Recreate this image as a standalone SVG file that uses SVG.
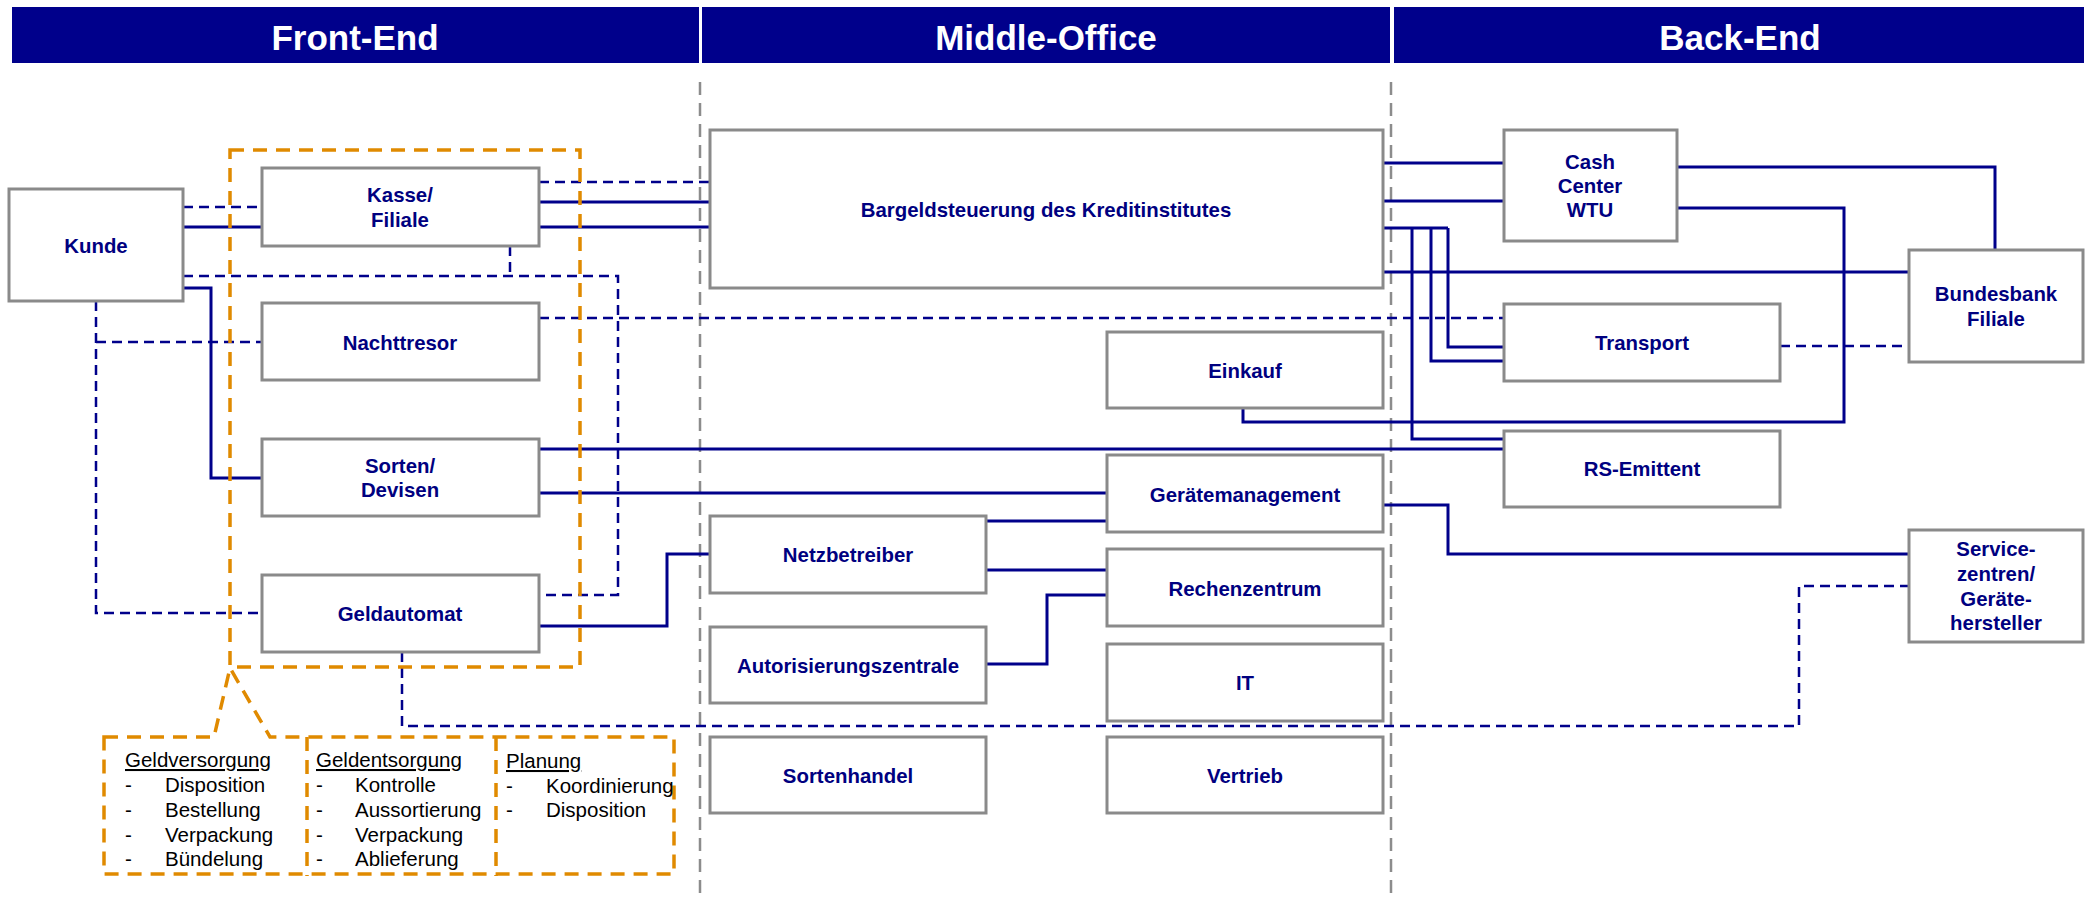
<svg xmlns="http://www.w3.org/2000/svg" width="2089" height="902" viewBox="0 0 2089 902">
<style>
.band{fill:#00008B}
.htxt{fill:#fff;font-family:"Liberation Sans",Arial,sans-serif;font-weight:bold;font-size:35px;text-anchor:middle}
.box{fill:#fff;stroke:#8a8a8a;stroke-width:3}
.ntxt{fill:#000080;font-family:"Liberation Sans",Arial,sans-serif;font-weight:bold;font-size:20.4px;text-anchor:middle}
.sol{fill:none;stroke:#00008B;stroke-width:3}
.dsh{fill:none;stroke:#00008B;stroke-width:2.5;stroke-dasharray:10 6}
.gray{fill:none;stroke:#8c8c8c;stroke-width:2.5;stroke-dasharray:13 8}
.org{fill:none;stroke:#E08A00;stroke-width:3.5;stroke-dasharray:14 9}
.atxt{fill:#000;font-family:"Liberation Sans",Arial,sans-serif;font-size:20.5px}
</style>
<rect width="2089" height="902" fill="#fff"/>
<g id="headers">
<rect class="band" x="12" y="7" width="687" height="56"/>
<rect class="band" x="702" y="7" width="688" height="56"/>
<rect class="band" x="1394" y="7" width="690" height="56"/>
<text class="htxt" x="355" y="50">Front-End</text>
<text class="htxt" x="1046" y="50">Middle-Office</text>
<text class="htxt" x="1740" y="50">Back-End</text>
</g>
<g id="separators">
<line class="gray" x1="700" y1="82" x2="700" y2="898"/>
<line class="gray" x1="1391" y1="82" x2="1391" y2="898"/>
</g>
<g id="connectors">
<line class="dsh" x1="183" y1="207" x2="262" y2="207"/>
<line class="sol" x1="183" y1="227" x2="262" y2="227"/>
<line class="dsh" x1="539" y1="182" x2="710" y2="182"/>
<line class="sol" x1="539" y1="202" x2="710" y2="202"/>
<line class="sol" x1="539" y1="227" x2="710" y2="227"/>
<polyline class="dsh" points="183,276 618,276 618,595 539,595"/>
<line class="dsh" x1="510" y1="246" x2="510" y2="276"/>
<line class="dsh" x1="539" y1="318" x2="1504" y2="318"/>
<polyline class="dsh" points="96,301 96,613 262,613"/>
<line class="dsh" x1="96" y1="342" x2="262" y2="342"/>
<polyline class="sol" points="183,288 211,288 211,478 262,478"/>
<line class="sol" x1="539" y1="449" x2="1504" y2="449"/>
<line class="sol" x1="539" y1="493" x2="1107" y2="493"/>
<polyline class="sol" points="539,626 667,626 667,554 710,554"/>
<polyline class="dsh" points="402,652 402,726 1799,726 1799,586 1909,586"/>
<line class="sol" x1="986" y1="521" x2="1107" y2="521"/>
<line class="sol" x1="986" y1="570" x2="1107" y2="570"/>
<polyline class="sol" points="986,664 1047,664 1047,595 1107,595"/>
<polyline class="sol" points="1677,208 1844,208 1844,422 1243,422 1243,408"/>
<polyline class="sol" points="1677,167 1995,167 1995,250"/>
<line class="sol" x1="1383" y1="163" x2="1504" y2="163"/>
<line class="sol" x1="1383" y1="201" x2="1504" y2="201"/>
<line class="sol" x1="1383" y1="228" x2="1448" y2="228"/>
<polyline class="sol" points="1448,228 1448,347 1504,347"/>
<polyline class="sol" points="1431,228 1431,361 1504,361"/>
<polyline class="sol" points="1412,228 1412,439 1504,439"/>
<line class="sol" x1="1383" y1="272" x2="1909" y2="272"/>
<line class="dsh" x1="1780" y1="346" x2="1909" y2="346"/>
<polyline class="sol" points="1383,505 1448,505 1448,554 1909,554"/>
</g>
<g id="kunde"><rect class="box" x="9" y="189" width="174" height="112"/><text class="ntxt" x="96" y="253">Kunde</text></g>
<g id="kasse"><rect class="box" x="262" y="168" width="277" height="78"/><text class="ntxt" x="400" y="202">Kasse/</text><text class="ntxt" x="400" y="227">Filiale</text></g>
<g id="nachttresor"><rect class="box" x="262" y="303" width="277" height="77"/><text class="ntxt" x="400" y="350">Nachttresor</text></g>
<g id="sorten"><rect class="box" x="262" y="439" width="277" height="77"/><text class="ntxt" x="400" y="473">Sorten/</text><text class="ntxt" x="400" y="497">Devisen</text></g>
<g id="geldautomat"><rect class="box" x="262" y="575" width="277" height="77"/><text class="ntxt" x="400" y="621">Geldautomat</text></g>
<g id="bargeldsteuerung"><rect class="box" x="710" y="130" width="673" height="158"/><text class="ntxt" x="1046" y="217">Bargeldsteuerung des Kreditinstitutes</text></g>
<g id="einkauf"><rect class="box" x="1107" y="332" width="276" height="76"/><text class="ntxt" x="1245" y="378">Einkauf</text></g>
<g id="geraetemanagement"><rect class="box" x="1107" y="455" width="276" height="77"/><text class="ntxt" x="1245" y="502">Gerätemanagement</text></g>
<g id="netzbetreiber"><rect class="box" x="710" y="516" width="276" height="77"/><text class="ntxt" x="848" y="562">Netzbetreiber</text></g>
<g id="rechenzentrum"><rect class="box" x="1107" y="549" width="276" height="77"/><text class="ntxt" x="1245" y="596">Rechenzentrum</text></g>
<g id="autorisierungszentrale"><rect class="box" x="710" y="627" width="276" height="76"/><text class="ntxt" x="848" y="673">Autorisierungszentrale</text></g>
<g id="it"><rect class="box" x="1107" y="644" width="276" height="77"/><text class="ntxt" x="1245" y="690">IT</text></g>
<g id="sortenhandel"><rect class="box" x="710" y="737" width="276" height="76"/><text class="ntxt" x="848" y="783">Sortenhandel</text></g>
<g id="vertrieb"><rect class="box" x="1107" y="737" width="276" height="76"/><text class="ntxt" x="1245" y="783">Vertrieb</text></g>
<g id="cashcenter"><rect class="box" x="1504" y="130" width="173" height="111"/><text class="ntxt" x="1590" y="169">Cash</text><text class="ntxt" x="1590" y="193">Center</text><text class="ntxt" x="1590" y="217">WTU</text></g>
<g id="transport"><rect class="box" x="1504" y="304" width="276" height="77"/><text class="ntxt" x="1642" y="350">Transport</text></g>
<g id="bundesbank"><rect class="box" x="1909" y="250" width="174" height="112"/><text class="ntxt" x="1996" y="301">Bundesbank</text><text class="ntxt" x="1996" y="326">Filiale</text></g>
<g id="rsemittent"><rect class="box" x="1504" y="431" width="276" height="76"/><text class="ntxt" x="1642" y="476">RS-Emittent</text></g>
<g id="service"><rect class="box" x="1909" y="530" width="174" height="112"/><text class="ntxt" x="1996" y="556">Service-</text><text class="ntxt" x="1996" y="581">zentren/</text><text class="ntxt" x="1996" y="606">Geräte-</text><text class="ntxt" x="1996" y="630">hersteller</text></g>
<g id="frontend-group"><rect class="org" x="230" y="150" width="350" height="517"/></g>
<g id="annotation">
<polygon class="org" points="104,737 214,737 230,668 270,737 674,737 674,874 104,874"/>
<line class="org" x1="307" y1="737" x2="307" y2="876"/>
<line class="org" x1="496" y1="737" x2="496" y2="876"/>
<text class="atxt" x="125" y="767" text-decoration="underline">Geldversorgung</text>
<text class="atxt" x="125" y="792">-</text><text class="atxt" x="165" y="792">Disposition</text>
<text class="atxt" x="125" y="817">-</text><text class="atxt" x="165" y="817">Bestellung</text>
<text class="atxt" x="125" y="842">-</text><text class="atxt" x="165" y="842">Verpackung</text>
<text class="atxt" x="125" y="866">-</text><text class="atxt" x="165" y="866">Bündelung</text>
<text class="atxt" x="316" y="767" text-decoration="underline">Geldentsorgung</text>
<text class="atxt" x="316" y="792">-</text><text class="atxt" x="355" y="792">Kontrolle</text>
<text class="atxt" x="316" y="817">-</text><text class="atxt" x="355" y="817">Aussortierung</text>
<text class="atxt" x="316" y="842">-</text><text class="atxt" x="355" y="842">Verpackung</text>
<text class="atxt" x="316" y="866">-</text><text class="atxt" x="355" y="866">Ablieferung</text>
<text class="atxt" x="506" y="768" text-decoration="underline">Planung</text>
<text class="atxt" x="506" y="793">-</text><text class="atxt" x="546" y="793">Koordinierung</text>
<text class="atxt" x="506" y="817">-</text><text class="atxt" x="546" y="817">Disposition</text>
</g>
</svg>
